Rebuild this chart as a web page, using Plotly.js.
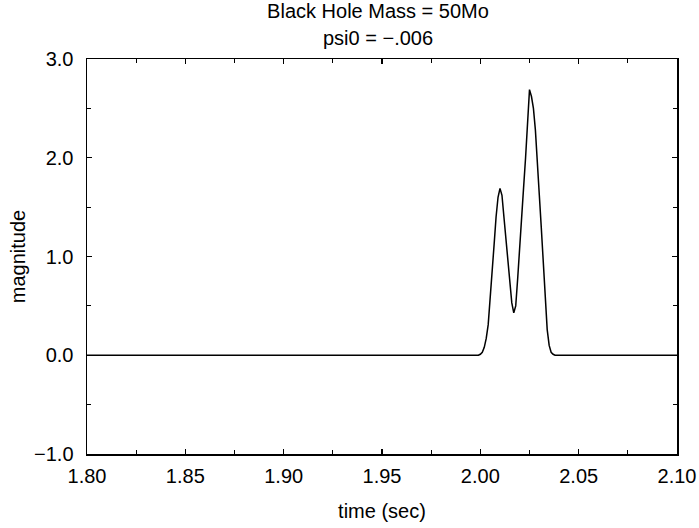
<!DOCTYPE html>
<html>
<head>
<meta charset="utf-8">
<script src="https://cdn.plot.ly/plotly-3.0.1.min.js"></script>
<style>html,body{margin:0;padding:0;background:#fff;}#chart{width:699px;height:528px;}</style>
</head>
<body>
<div id="chart"></div>
<script>
// time (sec)
const timeSec = [1.80, 1.90, 1.995, 1.999, 2.000, 2.001, 2.002, 2.003, 2.004, 2.005, 2.006, 2.007, 2.008, 2.009,
  2.010, 2.011, 2.012, 2.013, 2.014, 2.015, 2.016, 2.017, 2.018, 2.019,
  2.020, 2.021, 2.022, 2.023, 2.024, 2.025, 2.026, 2.027, 2.028, 2.029,
  2.030, 2.031, 2.032, 2.033, 2.034, 2.035, 2.036, 2.037, 2.038, 2.05, 2.10];
// magnitude
const magnitude = [0, 0, 0, 0.00, 0.01, 0.03, 0.08, 0.17, 0.31, 0.55, 0.80, 1.12, 1.40, 1.60,
  1.69, 1.62, 1.40, 1.17, 0.92, 0.70, 0.53, 0.43, 0.50, 0.78,
  1.12, 1.42, 1.70, 2.00, 2.35, 2.69, 2.62, 2.50, 2.28, 2.00,
  1.62, 1.29, 0.90, 0.55, 0.26, 0.10, 0.03, 0.01, 0.00, 0, 0];

const titleLine1 = "Black Hole Mass = 50Mo";
const titleLine2 = "psi0 = \u2212.006";
const xTitle = "time (sec)";
const yTitle = "magnitude";

const font = {family: "Liberation Sans, Arial, sans-serif", size: 20, color: "#000"};

const axisCommon = {
  showline: true, linecolor: "#000", linewidth: 1.5, mirror: "ticks",
  ticks: "inside", ticklen: 5, tickwidth: 1.2, tickcolor: "#000",
  showgrid: false, zeroline: false,
  tickfont: font
};

Plotly.newPlot("chart", [{
  x: timeSec, y: magnitude, type: "scatter", mode: "lines",
  line: {color: "#000", width: 1.5}, hoverinfo: "skip"
}], {
  width: 699, height: 528,
  margin: {l: 87, r: 22, t: 59, b: 74},
  paper_bgcolor: "#fff", plot_bgcolor: "#fff",
  font: font,
  showlegend: false,
  title: {text: titleLine1, font: font, x: 378/699, xanchor: "center", xref: "container",
          y: 1 - 11/528, yanchor: "middle", yref: "container"},
  annotations: [{text: titleLine2, xref: "paper", yref: "paper", x: (378 - 87) / 590, y: (454 - 38) / 395,
                 xanchor: "center", yanchor: "middle", showarrow: false, font: font}],
  xaxis: Object.assign({}, axisCommon, {
    range: [1.80, 2.10], dtick: 0.05, tick0: 1.80, tickformat: ".2f",
    minor: {dtick: 0.025, ticks: "inside", ticklen: 4, tickcolor: "#000", tickwidth: 1.2},
    ticklabelstandoff: 3,
    title: {text: xTitle, font: font, standoff: 18}
  }),
  yaxis: Object.assign({}, axisCommon, {
    range: [-1.0, 3.0], dtick: 1, tick0: 0, tickformat: ".1f",
    minor: {dtick: 0.5, ticks: "inside", ticklen: 4, tickcolor: "#000", tickwidth: 1.2},
    ticklabelstandoff: 8,
    title: {text: yTitle, font: font, standoff: 3}
  })
}, {displayModeBar: false, staticPlot: true});
</script>
</body>
</html>
